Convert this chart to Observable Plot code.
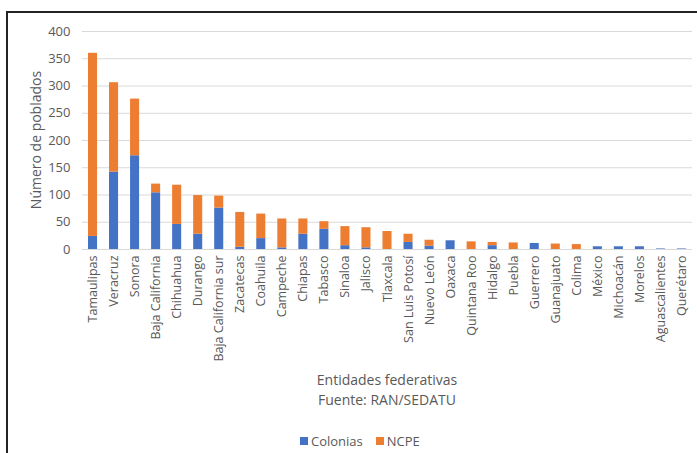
<!DOCTYPE html>
<html>
<head>
<meta charset="utf-8">
<script src="https://cdn.jsdelivr.net/npm/d3@7"></script>
<script src="https://cdn.jsdelivr.net/npm/@observablehq/plot@0.6"></script>
<style>
  html, body { margin: 0; padding: 0; background: #fff; }
  body { width: 697px; height: 453px; position: relative; overflow: hidden; font-family: "Open Sans", sans-serif; color: #595959; }
  #frame { position: absolute; left: 6px; top: 11px; width: 700px; height: 460px; border-top: 2px solid #222; border-left: 2px solid #222; }
  #chart { position: absolute; left: 0; top: 0; }
  .t { position: absolute; left: 82px; width: 610px; text-align: center; font-size: 14px; }
  #ylab { position: absolute; left: 35px; top: 140px; font-size: 14px; white-space: nowrap; transform: translate(-50%, -50%) rotate(-90deg); }
  #legend { position: absolute; top: 432px; left: 300px; font-size: 13px; display: flex; align-items: center; }
  #legend span.sw { display: inline-block; width: 8px; height: 8px; margin-right: 3px; }
  #legend span.lab { margin-right: 13px; }
</style>
</head>
<body>
<div id="frame"></div>
<div id="chart"></div>
<div id="ylab">Número de poblados</div>
<div class="t" style="top:370px">Entidades federativas</div>
<div class="t" style="top:390px">Fuente: RAN/SEDATU</div>
<div id="legend"></div>
<script>
const states = ["Tamaulipas","Veracruz","Sonora","Baja California","Chihuahua","Durango","Baja California sur","Zacatecas","Coahuila","Campeche","Chiapas","Tabasco","Sinaloa","Jalisco","Tlaxcala","San Luis Potosí","Nuevo León","Oaxaca","Quintana Roo","Hidalgo","Puebla","Guerrero","Guanajuato","Colima","México","Michoacán","Morelos","Aguascalientes","Querétaro"];
const colonias = [24,142,172,104,46,28,76,4,20,3,28,37,7,3,0,13,6,16,0,7,0,11,0,0,5,5,5,1,1];
const ncpe = [336,164,104,16,72,71,22,64,45,53,28,14,35,37,33,15,11,0,14,6,12,0,10,9,0,0,0,0,0];
const series = ["Colonias","NCPE"];
const colors = ["#4472C4","#ED7D31"];
const yTicks = [0,50,100,150,200,250,300,350,400];

const data = states.flatMap((s, i) => [
  {state: s, serie: "Colonias", value: colonias[i]},
  {state: s, serie: "NCPE", value: ncpe[i]}
]);

const chart = Plot.plot({
  width: 697,
  height: 369,
  marginLeft: 82,
  marginRight: 5,
  marginTop: 31,
  marginBottom: 120,
  style: {fontFamily: "Open Sans, sans-serif", fontSize: "12px", color: "#595959", background: "transparent"},
  x: {domain: states, paddingInner: 0.57, paddingOuter: 0.285, round: false, label: null},
  y: {domain: [0, 400], label: null},
  color: {domain: series, range: colors},
  marks: [
    Plot.gridY(yTicks, {stroke: "#d9d9d9", strokeOpacity: 1, strokeWidth: 1}),
    Plot.axisY(yTicks, {tickSize: 0, tickPadding: 12, fontSize: 13, label: null}),
    Plot.axisX({tickSize: 0, tickRotate: -90, tickPadding: 6, fontSize: 12.5, label: null}),
    Plot.barY(data, {x: "state", y: "value", fill: "serie"})
  ]
});
document.getElementById("chart").appendChild(chart);

const legend = document.getElementById("legend");
series.forEach((s, i) => {
  const sw = document.createElement("span");
  sw.className = "sw";
  sw.style.background = colors[i];
  const lab = document.createElement("span");
  lab.className = "lab";
  lab.textContent = s;
  legend.appendChild(sw);
  legend.appendChild(lab);
});
</script>
</body>
</html>
